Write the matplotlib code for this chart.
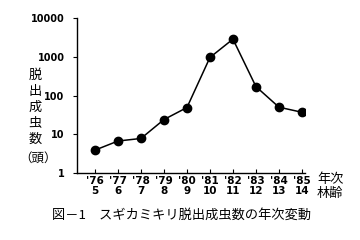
import matplotlib
matplotlib.use("Agg")
import matplotlib.pyplot as plt
import numpy as np

plt.rcParams['font.family'] = ['DejaVu Sans', 'Noto Sans CJK JP']

years = ["'76", "'77", "'78", "'79", "'80", "'81", "'82", "'83", "'84", "'85"]
ages = ["5", "6", "7", "8", "9", "10", "11", "12", "13", "14"]
counts = [3.9, 6.7, 7.8, 24, 49, 960, 2850, 170, 50, 37]

jp = ['Noto Sans CJK JP', 'DejaVu Sans']

fig = plt.figure(figsize=(3.6, 2.4), dpi=100)
ax = fig.add_axes([0.214, 0.279, 0.633, 0.646])

x = np.arange(len(years))
ax.plot(x, counts, color='black', lw=1.1, marker='o', ms=6, zorder=3)

ax.set_yscale('log')
ax.set_ylim(1, 10000)
ax.set_xlim(-0.78, 9.13)
ax.set_yticks([1, 10, 100, 1000, 10000])
ax.set_yticklabels(['1', '10', '100', '1000', '10000'], fontsize=7, fontweight='bold')
ax.minorticks_off()
ax.set_xticks(x)
ax.set_xticklabels([y + "\n" + a for y, a in zip(years, ages)], fontsize=7.5,
                   fontweight='bold', linespacing=1.0)

for s in ['top', 'right']:
    ax.spines[s].set_visible(False)
ax.spines['left'].set_linewidth(1.0)
ax.spines['bottom'].set_linewidth(1.0)
ax.tick_params(axis='y', direction='out', length=3, pad=6)
ax.tick_params(axis='x', direction='in', length=3, pad=2)

# vertical stacked y label
ylab = "脱出成虫数"
for i, ch in enumerate(ylab):
    fig.text(35 / 360, 1 - (75 + i * 16) / 240, ch, fontsize=9.5, family=jp,
             ha='center', va='center')
fig.text(38 / 360, 1 - 158 / 240, "（頭）", fontsize=9, family=jp,
         ha='center', va='center')

fig.text(317 / 360, 1 - 180 / 240, "年次", fontsize=9.5, family=jp, va='center')
fig.text(317 / 360, 1 - 194 / 240, "林齢", fontsize=9.5, family=jp, va='center')

fig.text(52 / 360, 1 - 215 / 240, "図－1　スギカミキリ脱出成虫数の年次変動",
         fontsize=9.5, family=jp, va='center')

fig.savefig("out.png", dpi=100)
